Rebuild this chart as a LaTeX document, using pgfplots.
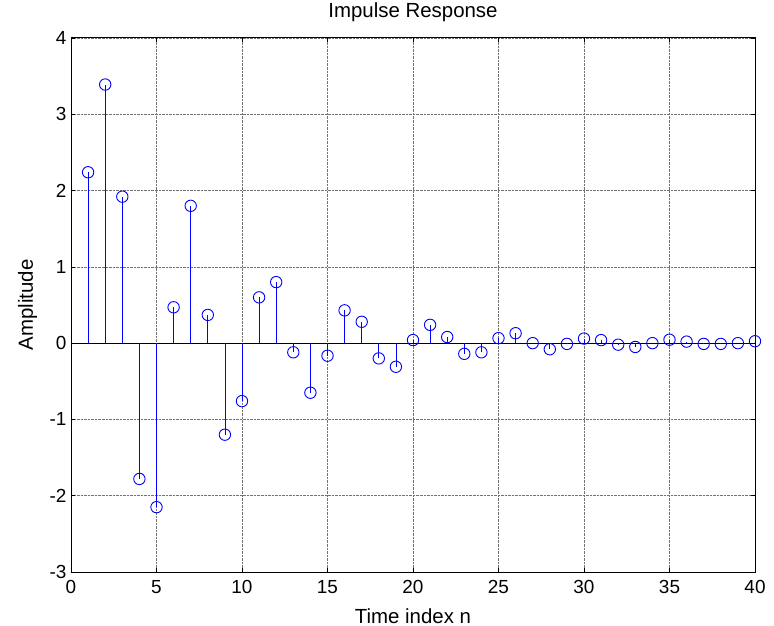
\documentclass[border=0pt]{standalone}
\usepackage{pgfplots}
\pgfplotsset{compat=1.18}
\usepackage{fontspec}
\setmainfont{Liberation Sans}
\begin{document}
\begin{tikzpicture}
\useasboundingbox (-71bp,-54bp) rectangle (703bp,572bp);
\begin{axis}[
  scale only axis,
  width=684bp, height=534bp,
  xmin=0, xmax=40, ymin=-3, ymax=4,
  xtick={0,5,...,40}, ytick={-3,-2,...,4},
  grid=major,
  major grid style={densely dotted, black!55, line width=0.6bp},
  tick align=inside,
  major tick length=4bp,
  tick style={black, line width=0.6bp},
  axis line style={black, line width=1bp},
  /pgf/number format/assume math mode=true,
  tick label style={font=\fontsize{19}{21}\selectfont},
  xticklabel style={yshift=-5bp},
  yticklabel style={xshift=-1bp},
  title={Impulse Response},
  title style={font=\fontsize{20.5}{23}\selectfont, at={(axis description cs:0.5,1)}, anchor=base, yshift=15bp},
  xlabel={Time index n},
  xlabel style={font=\fontsize{20.5}{23}\selectfont, at={(axis description cs:0.5,0)}, anchor=base, yshift=-51bp},
  ylabel={Amplitude},
  ylabel style={font=\fontsize{20.5}{23}\selectfont, at={(axis description cs:-0.0556,0.5)}, anchor=base},
]
\addplot[black, line width=0.8bp, no marks] coordinates {(0,0) (40,0)};
\addplot[ycomb, color={rgb,255:red,0;green,0;blue,255}, line width=0.8bp,
  mark=o, mark size=5.7bp, mark options={line width=0.9bp}] coordinates {
(1,2.24) (2,3.39) (3,1.92) (4,-1.78) (5,-2.15) (6,0.47) (7,1.80) (8,0.37)
(9,-1.20) (10,-0.76) (11,0.60) (12,0.80) (13,-0.12) (14,-0.65) (15,-0.165)
(16,0.43) (17,0.28) (18,-0.20) (19,-0.31) (20,0.04) (21,0.24) (22,0.08)
(23,-0.14) (24,-0.12) (25,0.065) (26,0.13) (27,0.0) (28,-0.08) (29,-0.01)
(30,0.06) (31,0.04) (32,-0.02) (33,-0.05) (34,0.0) (35,0.045) (36,0.02)
(37,-0.01) (38,-0.01) (39,0.0) (40,0.025)
};
\end{axis}
\end{tikzpicture}
\end{document}
